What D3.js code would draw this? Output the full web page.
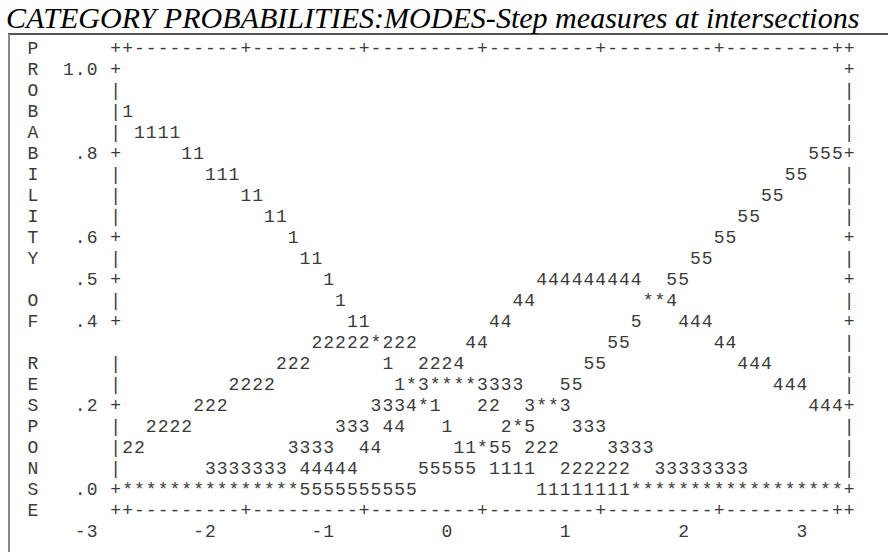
<!DOCTYPE html>
<html>
<head>
<meta charset="utf-8">
<script src="https://cdn.jsdelivr.net/npm/d3@7"></script>
<style>
body { margin: 0; background: #fff; }
</style>
</head>
<body>
<div id="chart"></div>
<script>
// Category probability curves, one value per text column (x = -3 .. 3 by .1)
var xValues = d3.range(-30, 31).map(function(i) { return i / 10; });

var cat1 = [.90, .85, .85, .85, .85, .80, .80, .75, .75, .75, .70, .70, .65, .65, .60,
            .55, .55, .50, .45, .40, .40, .35, .30, .25, .25, .20, .20, .15, .10, .10,
            .10, .05, .05, .05, .05, 0, 0, 0, 0, 0, 0, 0, 0, 0, 0, 0, 0, 0, 0, 0,
            0, 0, 0, 0, 0, 0, 0, 0, 0, 0, 0];
var cat2 = [.10, .10, .15, .15, .15, .15, .20, .20, .20, .25, .25, .25, .25, .30, .30,
            .30, .35, .35, .35, .35, .35, .35, .35, .35, .35, .30, .30, .30, .25, .25,
            .20, .20, .15, .15, .10, .10, .10, .05, .05, .05, .05, .05, .05, 0, 0,
            0, 0, 0, 0, 0, 0, 0, 0, 0, 0, 0, 0, 0, 0, 0, 0];
var cat3 = [0, 0, 0, 0, 0, 0, 0, .05, .05, .05, .05, .05, .05, .05, .10,
            .10, .10, .10, .15, .15, .15, .20, .20, .20, .25, .25, .25, .25, .25, .25,
            .25, .25, .25, .25, .20, .20, .20, .20, .15, .15, .15, .10, .10, .10, .10,
            .05, .05, .05, .05, .05, .05, .05, .05, 0, 0, 0, 0, 0, 0, 0, 0];
var cat4 = [0, 0, 0, 0, 0, 0, 0, 0, 0, 0, 0, 0, 0, 0, 0,
            .05, .05, .05, .05, .05, .10, .10, .15, .15, .20, .20, .25, .25, .30, .35,
            .35, .40, .40, .45, .45, .50, .50, .50, .50, .50, .50, .50, .50, .50, .45,
            .45, .45, .40, .40, .40, .35, .35, .30, .30, .30, .25, .25, .25, .20, .20, .20];
var cat5 = [0, 0, 0, 0, 0, 0, 0, 0, 0, 0, 0, 0, 0, 0, 0,
            0, 0, 0, 0, 0, 0, 0, 0, 0, 0, .05, .05, .05, .05, .05,
            .10, .10, .10, .15, .15, .20, .20, .25, .25, .30, .30, .35, .35, .40, .45,
            .45, .50, .50, .55, .55, .60, .60, .65, .65, .70, .70, .75, .75, .80, .80, .80];

var yTicks = [1.0, .8, .6, .5, .4, .2, 0];
var yTickLabels = ["1.0", ".8", ".6", ".5", ".4", ".2", ".0"];
var xTicks = [-3, -2, -1, 0, 1, 2, 3];
var xTickLabels = ["-3", "-2", "-1", "0", "1", "2", "3"];
var axisGaps = [.35];   // left axis row printed blank
var sideLabel = "PROBABILITY OF RESPONSE";
var title = "CATEGORY PROBABILITIES:MODES-Step measures at intersections";

var width = 888, height = 552;
var cw = 11.83, left = 27, top0 = 48, pitch = 21;
var ink = "#3a3a3a";

function colX(c) { return left + cw * (c + 0.5); }
function rowY(r) { return top0 + pitch * r; }

var svg = d3.select("#chart").append("svg").attr("width", width).attr("height", height);

var x = d3.scaleLinear().domain([-3, 3]).range([colX(8), colX(68)]);
var y = d3.scaleLinear().domain([1.05, -0.05]).range([rowY(0), rowY(22)]);
function colOf(px) { return Math.round((px - left) / cw - 0.5); }

// frame (inset border)
svg.append("line").attr("x1", 8).attr("x2", width).attr("y1", 34).attr("y2", 34)
    .attr("stroke", "#555").attr("stroke-width", 2);
svg.append("line").attr("x1", 9).attr("x2", 9).attr("y1", 34).attr("y2", height)
    .attr("stroke", "#888").attr("stroke-width", 2);

// title
var t = svg.append("text").attr("x", 6).attr("y", 28)
    .attr("font-family", "Liberation Serif, serif").attr("font-style", "italic")
    .attr("font-size", 26).attr("fill", "#000").text(title);
var tw = t.node().getComputedTextLength();
t.attr("font-size", 26 * 854 / tw);

var mono = svg.append("g")
    .attr("font-family", "Liberation Mono, monospace")
    .attr("font-size", 18)
    .attr("fill", ink)
    .attr("text-anchor", "middle");

function put(c, py, ch) {
    mono.append("text").attr("x", colX(c)).attr("y", py).attr("dy", "0.34em").text(ch);
}
// string whose last character sits in column c
function putRight(c, py, s) {
    s.split("").forEach(function(ch, i) { put(c - s.length + 1 + i, py, ch); });
}

// horizontal axis lines (top and bottom)
var tickCols = xTicks.map(function(v) { return colOf(x(v)); });
[1.05, -0.05].forEach(function(p) {
    for (var c = 7; c <= 69; c++) {
        var ch = (c == 7 || c == 69 || tickCols.indexOf(c) >= 0) ? "+" : "-";
        put(c, y(p), ch);
    }
});

// vertical axis columns
var tickRows = yTicks.map(function(v) { return Math.round(y(v)); });
var gapRows = axisGaps.map(function(v) { return Math.round(y(v)); });
d3.range(1, 22).forEach(function(r) {
    var py = rowY(r);
    var isTick = tickRows.indexOf(Math.round(py)) >= 0;
    if (gapRows.indexOf(Math.round(py)) < 0) put(7, py, isTick ? "+" : "|");
    put(69, py, isTick ? "+" : "|");
});

// y tick labels (end in column 5)
yTicks.forEach(function(v, i) { putRight(5, y(v), yTickLabels[i]); });

// x tick labels (end three columns left of their tick)
xTicks.forEach(function(v, i) { putRight(colOf(x(v)) - 3, rowY(23), xTickLabels[i]); });

// side label
sideLabel.split("").forEach(function(ch, i) {
    if (ch != " ") put(0, rowY(i), ch);
});

// curves: category digit per cell, "*" where curves share a cell
var series = [cat1, cat2, cat3, cat4, cat5];
var cells = new Map();
series.forEach(function(s, k) {
    s.forEach(function(p, i) {
        var key = i + "|" + p;
        if (!cells.has(key)) cells.set(key, {x: xValues[i], p: p, cats: []});
        cells.get(key).cats.push(k + 1);
    });
});
mono.selectAll(".pt").data(Array.from(cells.values())).enter().append("text")
    .attr("x", function(d) { return x(d.x); })
    .attr("y", function(d) { return y(d.p); })
    .attr("dy", "0.34em")
    .text(function(d) { return d.cats.length > 1 ? "*" : String(d.cats[0]); });
</script>
</body>
</html>
